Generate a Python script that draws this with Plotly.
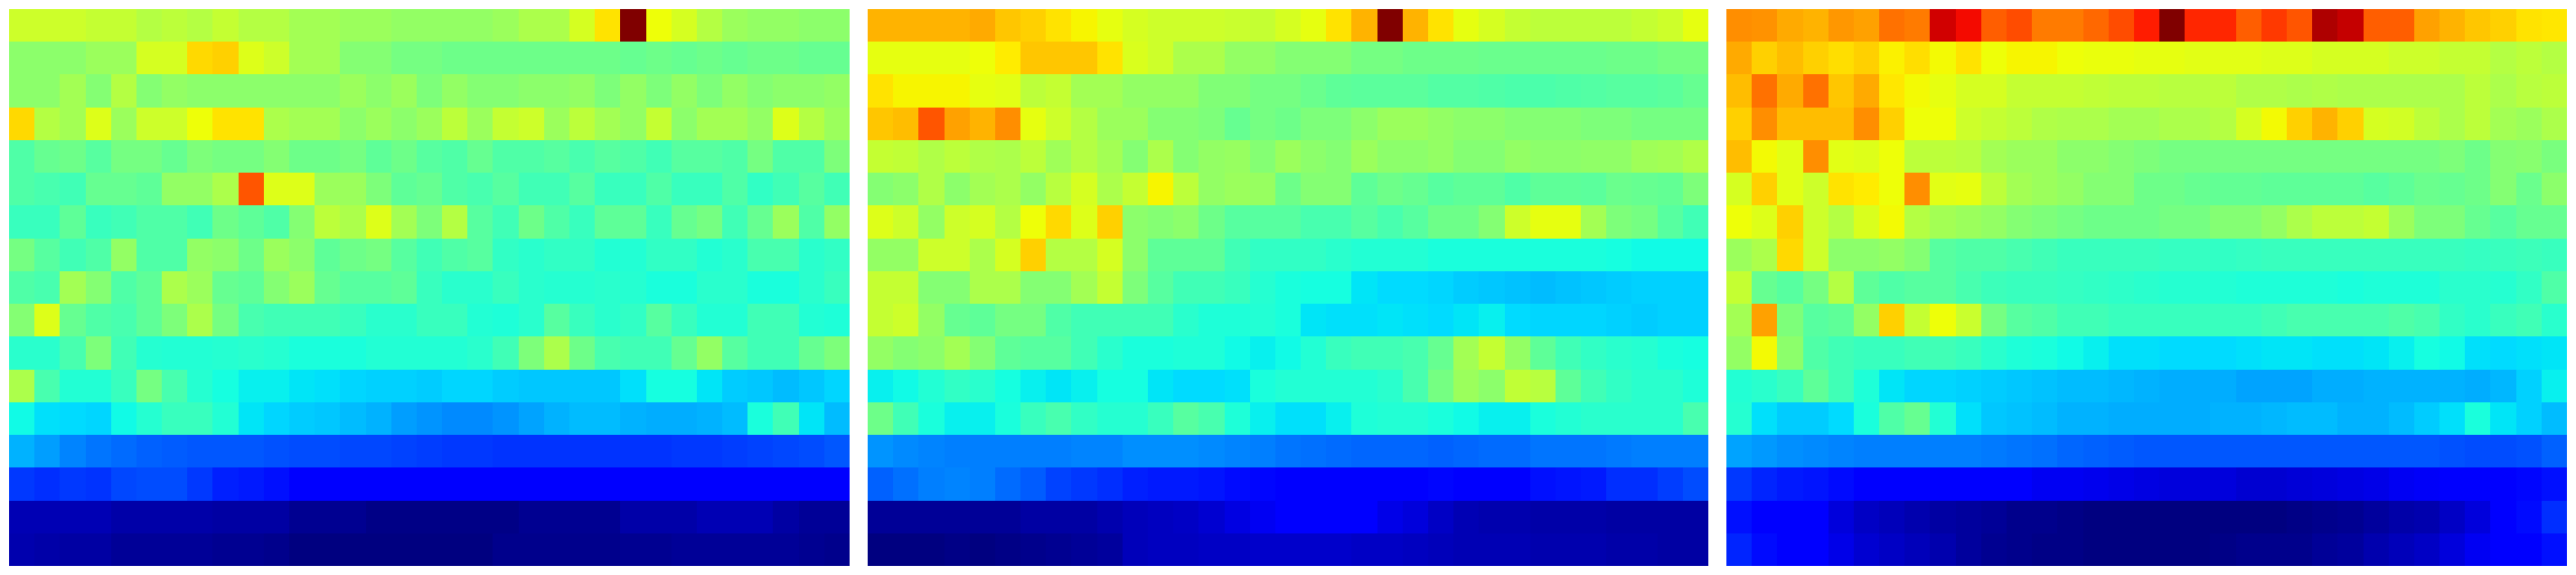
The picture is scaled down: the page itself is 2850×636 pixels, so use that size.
import plotly.graph_objects as go

panel_a = [
 [.60,.60,.60,.59,.59,.57,.58,.57,.59,.57,.57,.55,.55,.54,.54,.53,.53,.53,.53,.54,.56,.56,.61,.67,1.0,.64,.61,.57,.54,.53,.53,.52,.52],
 [.52,.52,.52,.54,.54,.61,.61,.68,.69,.62,.60,.55,.55,.51,.51,.49,.49,.48,.48,.48,.48,.48,.48,.48,.47,.48,.47,.48,.47,.48,.48,.47,.47],
 [.52,.52,.55,.51,.57,.51,.53,.52,.52,.52,.52,.52,.52,.54,.52,.54,.50,.53,.51,.51,.52,.52,.53,.50,.53,.50,.53,.50,.53,.51,.52,.52,.53],
 [.68,.57,.55,.62,.54,.60,.60,.64,.67,.67,.56,.55,.55,.52,.54,.52,.54,.58,.54,.59,.60,.54,.58,.55,.53,.59,.52,.55,.55,.53,.62,.57,.54],
 [.44,.47,.48,.45,.49,.49,.47,.50,.49,.49,.51,.48,.48,.49,.46,.48,.45,.44,.47,.44,.44,.45,.43,.45,.44,.42,.45,.45,.44,.49,.44,.44,.50],
 [.44,.43,.42,.47,.47,.46,.53,.53,.56,.82,.62,.62,.54,.54,.50,.46,.47,.44,.43,.45,.42,.42,.45,.41,.41,.44,.41,.41,.44,.40,.42,.45,.42],
 [.41,.41,.46,.41,.42,.44,.44,.42,.48,.46,.44,.51,.58,.56,.62,.55,.50,.57,.45,.42,.48,.44,.41,.46,.46,.41,.47,.49,.42,.47,.54,.44,.53],
 [.49,.45,.42,.44,.53,.44,.44,.53,.52,.48,.54,.52,.46,.48,.49,.45,.42,.44,.45,.40,.39,.40,.40,.38,.38,.40,.40,.38,.39,.43,.43,.39,.40],
 [.44,.43,.55,.51,.44,.46,.56,.54,.47,.46,.51,.54,.47,.45,.45,.46,.41,.39,.39,.41,.39,.385,.385,.39,.385,.37,.37,.39,.39,.37,.37,.39,.41],
 [.51,.62,.47,.44,.43,.46,.50,.56,.49,.43,.42,.42,.42,.41,.39,.39,.41,.41,.38,.375,.39,.45,.41,.39,.40,.45,.41,.38,.38,.42,.42,.38,.375],
 [.39,.39,.43,.50,.42,.385,.38,.38,.385,.39,.385,.37,.37,.37,.38,.38,.38,.38,.39,.42,.50,.56,.48,.43,.42,.42,.47,.53,.45,.42,.42,.47,.50],
 [.56,.43,.38,.38,.41,.49,.43,.385,.365,.355,.355,.35,.345,.335,.33,.33,.325,.335,.335,.325,.32,.32,.32,.32,.345,.365,.365,.35,.325,.32,.31,.32,.335],
 [.36,.345,.34,.335,.36,.385,.41,.41,.38,.35,.335,.325,.32,.31,.30,.28,.27,.26,.26,.27,.285,.30,.31,.31,.30,.295,.295,.30,.31,.37,.42,.35,.31],
 [.30,.28,.255,.24,.23,.22,.215,.21,.21,.21,.205,.20,.20,.195,.195,.19,.185,.18,.18,.175,.175,.175,.175,.175,.175,.175,.18,.18,.185,.19,.195,.20,.21],
 [.18,.17,.18,.175,.195,.20,.20,.18,.155,.15,.14,.125,.125,.115,.115,.115,.115,.115,.115,.115,.115,.115,.115,.115,.115,.115,.115,.115,.115,.115,.115,.115,.115],
 [.045,.045,.045,.045,.035,.035,.035,.035,.03,.03,.03,.015,.015,.015,.005,.005,.005,.005,.005,.005,.015,.015,.015,.015,.035,.035,.035,.045,.045,.045,.03,.02,.02],
 [.04,.035,.03,.03,.02,.02,.02,.02,.015,.015,.01,0,0,0,0,0,0,0,0,.01,.01,.01,.01,.01,.015,.015,.02,.02,.02,.02,.02,.015,.01],
]

panel_b = [
 [.72,.72,.72,.72,.73,.70,.69,.67,.65,.63,.61,.60,.60,.60,.595,.59,.61,.63,.67,.72,1.0,.72,.67,.63,.61,.59,.58,.58,.58,.58,.59,.60,.63],
 [.63,.63,.63,.63,.64,.66,.70,.70,.70,.67,.615,.60,.56,.56,.53,.53,.51,.51,.51,.49,.49,.48,.48,.48,.475,.475,.475,.475,.475,.48,.48,.49,.49],
 [.67,.65,.65,.65,.63,.625,.58,.59,.55,.55,.53,.53,.53,.505,.505,.49,.49,.475,.46,.455,.455,.455,.445,.445,.44,.435,.435,.44,.445,.45,.45,.455,.47],
 [.70,.71,.82,.74,.72,.76,.63,.60,.57,.54,.54,.51,.51,.50,.47,.49,.48,.50,.50,.52,.54,.54,.53,.52,.52,.51,.51,.51,.50,.50,.49,.49,.49],
 [.59,.585,.565,.58,.565,.56,.58,.545,.57,.55,.51,.56,.51,.53,.535,.51,.54,.52,.51,.54,.52,.52,.53,.51,.51,.53,.52,.52,.525,.525,.545,.55,.565],
 [.51,.52,.565,.52,.55,.56,.53,.575,.61,.56,.59,.65,.58,.53,.54,.535,.48,.51,.51,.46,.48,.47,.45,.46,.46,.44,.46,.46,.455,.475,.47,.465,.50],
 [.62,.60,.53,.60,.61,.57,.64,.68,.62,.69,.52,.51,.52,.48,.45,.45,.45,.43,.43,.45,.43,.45,.48,.48,.51,.60,.63,.63,.55,.50,.49,.45,.42],
 [.53,.53,.60,.60,.56,.61,.69,.57,.57,.61,.52,.46,.46,.46,.42,.40,.40,.40,.39,.38,.38,.38,.37,.37,.37,.37,.37,.37,.37,.365,.36,.36,.36],
 [.59,.59,.51,.51,.56,.56,.51,.51,.55,.59,.50,.45,.42,.42,.41,.385,.37,.365,.365,.35,.34,.34,.335,.325,.32,.315,.31,.315,.32,.325,.33,.33,.33],
 [.59,.60,.53,.47,.46,.49,.49,.44,.42,.42,.42,.42,.39,.375,.375,.38,.37,.35,.345,.345,.35,.345,.34,.35,.355,.34,.335,.335,.335,.33,.325,.33,.33],
 [.53,.51,.52,.55,.51,.46,.45,.45,.42,.39,.37,.37,.375,.375,.36,.355,.36,.38,.41,.42,.42,.43,.47,.55,.59,.53,.46,.42,.40,.39,.385,.37,.365],
 [.355,.36,.38,.40,.39,.365,.355,.35,.355,.365,.365,.35,.34,.34,.345,.37,.38,.38,.38,.38,.39,.43,.49,.54,.52,.585,.575,.46,.42,.40,.39,.39,.375],
 [.48,.42,.37,.355,.355,.37,.41,.43,.40,.385,.385,.41,.45,.43,.375,.355,.345,.345,.355,.375,.38,.38,.37,.36,.355,.355,.37,.38,.39,.39,.39,.39,.43],
 [.27,.26,.255,.25,.25,.25,.25,.25,.255,.255,.265,.265,.265,.26,.255,.25,.24,.235,.23,.225,.225,.225,.22,.225,.23,.23,.24,.24,.24,.245,.25,.25,.25],
 [.22,.235,.25,.255,.25,.23,.215,.19,.18,.17,.155,.15,.15,.145,.135,.13,.125,.125,.125,.125,.12,.12,.13,.125,.125,.125,.14,.145,.15,.17,.17,.185,.20],
 [.02,.02,.02,.02,.02,.02,.03,.03,.03,.04,.05,.055,.06,.07,.085,.10,.115,.12,.12,.115,.09,.08,.06,.045,.04,.04,.035,.035,.035,.03,.03,.03,.03],
 [0,0,0,.005,0,.005,.01,.015,.02,.025,.05,.055,.055,.06,.06,.065,.065,.065,.065,.06,.06,.055,.05,.045,.045,.045,.04,.04,.04,.035,.035,.03,.03],
]

panel_c = [
 [.76,.755,.73,.72,.75,.74,.79,.78,.93,.90,.81,.83,.78,.78,.80,.83,.88,1.0,.87,.87,.81,.85,.82,.96,.94,.81,.81,.74,.72,.70,.69,.67,.665],
 [.73,.69,.71,.69,.675,.69,.655,.675,.645,.67,.64,.65,.65,.64,.635,.635,.63,.63,.625,.625,.625,.62,.62,.61,.61,.61,.60,.60,.59,.59,.57,.58,.57],
 [.71,.79,.73,.79,.70,.73,.665,.645,.63,.61,.61,.59,.59,.59,.585,.58,.58,.575,.575,.58,.565,.565,.56,.565,.56,.56,.56,.56,.56,.58,.56,.575,.58],
 [.69,.76,.71,.71,.71,.76,.69,.64,.64,.60,.59,.58,.565,.56,.56,.55,.55,.56,.56,.57,.61,.645,.69,.72,.69,.61,.605,.58,.56,.58,.55,.54,.56],
 [.71,.645,.625,.76,.625,.62,.64,.58,.58,.575,.55,.54,.54,.52,.52,.51,.50,.49,.49,.49,.49,.49,.49,.49,.49,.49,.49,.49,.50,.48,.51,.515,.495],
 [.61,.69,.625,.60,.67,.66,.64,.76,.625,.63,.58,.55,.54,.53,.51,.51,.48,.48,.47,.465,.465,.46,.46,.46,.46,.45,.46,.475,.47,.48,.51,.475,.52],
 [.64,.62,.69,.60,.57,.615,.645,.57,.55,.54,.53,.51,.50,.49,.48,.48,.48,.49,.49,.51,.51,.53,.56,.58,.58,.59,.54,.50,.50,.47,.45,.47,.47],
 [.54,.56,.68,.60,.52,.52,.53,.51,.45,.44,.44,.43,.42,.41,.41,.41,.41,.405,.405,.40,.405,.41,.41,.41,.41,.41,.41,.41,.41,.405,.41,.415,.41],
 [.59,.47,.45,.49,.57,.46,.44,.45,.45,.43,.415,.41,.41,.405,.40,.395,.39,.385,.385,.38,.375,.375,.375,.375,.37,.375,.375,.375,.39,.39,.385,.40,.44],
 [.55,.74,.50,.45,.46,.53,.69,.59,.64,.595,.49,.45,.44,.42,.42,.41,.41,.41,.41,.41,.41,.42,.43,.43,.43,.43,.44,.43,.40,.39,.41,.42,.39],
 [.53,.645,.52,.44,.42,.41,.41,.42,.42,.41,.39,.375,.37,.36,.355,.345,.345,.34,.34,.34,.345,.35,.35,.345,.345,.35,.355,.365,.36,.345,.34,.345,.35],
 [.38,.39,.41,.46,.42,.375,.35,.335,.335,.33,.325,.32,.315,.31,.31,.305,.30,.295,.295,.295,.285,.285,.285,.295,.295,.30,.30,.30,.30,.295,.305,.33,.355],
 [.385,.345,.325,.325,.34,.37,.44,.47,.38,.345,.32,.315,.31,.30,.30,.295,.295,.295,.295,.30,.30,.305,.31,.31,.30,.30,.31,.325,.345,.37,.35,.33,.31],
 [.285,.275,.265,.26,.255,.25,.25,.25,.25,.25,.245,.24,.235,.225,.22,.215,.21,.21,.21,.21,.21,.21,.21,.21,.21,.21,.21,.21,.205,.20,.20,.205,.22],
 [.18,.16,.15,.145,.135,.12,.115,.11,.11,.11,.11,.11,.10,.10,.095,.09,.085,.08,.08,.08,.07,.07,.075,.08,.085,.09,.10,.105,.11,.11,.115,.13,.14],
 [.14,.125,.115,.11,.08,.06,.05,.04,.03,.025,.02,.01,.01,.005,0,0,0,0,0,0,0,0,.005,.01,.015,.025,.035,.04,.06,.08,.115,.135,.17],
 [.16,.135,.115,.115,.09,.07,.06,.05,.04,.025,.015,.01,.005,.005,0,0,0,0,0,.005,.01,.01,.01,.02,.025,.04,.05,.06,.08,.10,.115,.12,.14],
]

jet = [
 [0.0, "rgb(0,0,128)"], [0.11, "rgb(0,0,255)"], [0.125, "rgb(0,0,255)"],
 [0.34, "rgb(0,219,255)"], [0.35, "rgb(0,229,247)"], [0.362, "rgb(20,255,226)"],
 [0.54, "rgb(155,255,92)"],
 [0.64, "rgb(238,255,8)"], [0.65, "rgb(247,245,0)"], [0.66, "rgb(255,236,0)"],
 [0.89, "rgb(255,19,0)"], [0.91, "rgb(232,0,0)"], [1.0, "rgb(128,0,0)"],
]

W, H = 2850, 636
panels = [panel_a, panel_b, panel_c]
lefts = [10, 960, 1910]
panel_w = 930

fig = go.Figure()
layout = dict(width=W, height=H, margin=dict(l=0, r=0, t=0, b=0),
              paper_bgcolor="white", plot_bgcolor="white", showlegend=False)
for i, (z, left) in enumerate(zip(panels, lefts)):
    s = "" if i == 0 else str(i + 1)
    fig.add_trace(go.Heatmap(z=z, zmin=0, zmax=1, colorscale=jet, showscale=False,
                             xaxis="x" + s, yaxis="y" + s, hoverongaps=False))
    layout["xaxis" + s] = dict(domain=[left / W, (left + panel_w) / W], visible=False,
                               anchor="y" + s)
    layout["yaxis" + s] = dict(domain=[10 / H, 626 / H], visible=False, anchor="x" + s,
                               autorange="reversed")
fig.update_layout(**layout)
fig.write_html("out.html", config={"displayModeBar": False},
               post_script="document.body.style.margin='0';document.body.style.overflow='hidden';")
